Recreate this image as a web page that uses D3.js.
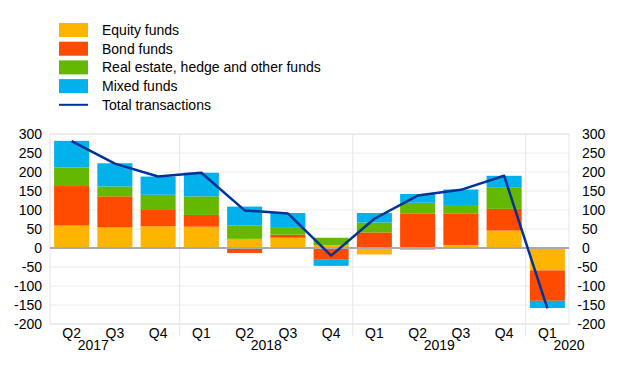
<!DOCTYPE html>
<html><head><meta charset="utf-8">
<script src="https://cdn.jsdelivr.net/npm/d3@7"></script>
<style>body{margin:0;background:#fff}svg{display:block;font-family:"Liberation Sans",Arial,sans-serif}</style>
</head><body><svg id="c" width="620" height="387"></svg>
<script>
const quarters = ["Q2","Q3","Q4","Q1","Q2","Q3","Q4","Q1","Q2","Q3","Q4","Q1"];
const years = [2017,2017,2017,2018,2018,2018,2018,2019,2019,2019,2019,2020];
const equity = [59,54,57,56,24,27,8,-17,-5,8,46,-59];
const bond = [104,82,43,31,-13,8,-31,41,90,82,57,-80];
const other = [49,26,40,49,35,20,19,26,29,23,57,0];
const mixed = [70,61,48,62,50,37,-16,25,23,41,30,-19];
const total = [281,222,188,198,99,91,-20,77,138,153,190,-159];
const seriesNames = ["Equity funds","Bond funds","Real estate, hedge and other funds","Mixed funds"];
const lineName = "Total transactions";
const yTicks = [300,250,200,150,100,50,0,-50,-100,-150,-200];
const colors = ["#FFB400","#FF4B00","#65B800","#00B1EA"];
const lineColor = "#003299";

const svg = d3.select("#c");
const L = 50, R = 569, T = 134, B = 324;
const idx = d3.range(quarters.length);
const x = d3.scaleBand().domain(idx).range([L, R]).paddingInner(0.19).paddingOuter(0.095);
const step = x.step();
const cx = i => L + step * (i + 0.5);
const y = d3.scaleLinear().domain([-200, 300]).range([B, T]);

// grid
svg.append("g").selectAll("line").data(yTicks).join("line")
  .attr("x1", L).attr("x2", R).attr("y1", d => y(d)).attr("y2", d => y(d))
  .attr("stroke", "#ececec").attr("stroke-width", 1);
svg.append("rect").attr("x", L).attr("y", T).attr("width", R - L).attr("height", B - T)
  .attr("fill", "none").attr("stroke", "#e4e4e4");
// year separators
const seps = idx.filter(i => i > 0 && years[i] !== years[i - 1]);
svg.append("g").selectAll("line").data(seps).join("line")
  .attr("x1", i => L + step * i).attr("x2", i => L + step * i)
  .attr("y1", T).attr("y2", B + 12).attr("stroke", "#e4e4e4");

// stacked bars
const series = [equity, bond, other, mixed];
const rects = [];
idx.forEach(i => {
  let pos = 0, neg = 0;
  series.forEach((s, k) => {
    const v = s[i];
    if (v === 0) return;
    let y0, y1;
    if (v >= 0) { y0 = pos; y1 = pos + v; pos = y1; } else { y0 = neg; y1 = neg + v; neg = y1; }
    rects.push({ i, k, y0, y1 });
  });
});
svg.append("g").selectAll("rect").data(rects).join("rect")
  .attr("x", d => x(d.i)).attr("width", x.bandwidth())
  .attr("y", d => y(Math.max(d.y0, d.y1))).attr("height", d => Math.abs(y(d.y0) - y(d.y1)))
  .attr("fill", d => colors[d.k]);

// zero line
svg.append("line").attr("x1", L).attr("x2", R).attr("y1", y(0)).attr("y2", y(0))
  .attr("stroke", "#aaaaaa").attr("stroke-width", 2);

// total line
svg.append("path").datum(total)
  .attr("d", d3.line().x((d, i) => cx(i)).y(d => y(d)))
  .attr("fill", "none").attr("stroke", lineColor).attr("stroke-width", 2.5).attr("stroke-linejoin", "round");

// y axes
const fs = 14;
svg.append("g").selectAll("text").data(yTicks).join("text")
  .attr("x", 42).attr("y", d => y(d)).attr("dy", "0.35em").attr("text-anchor", "end")
  .attr("font-size", fs).attr("fill", "#000").text(d => d);
svg.append("g").selectAll("text").data(yTicks).join("text")
  .attr("x", d => d < 0 ? 577.3 : 582).attr("y", d => y(d)).attr("dy", "0.35em").attr("text-anchor", "start")
  .attr("font-size", fs).attr("fill", "#000").text(d => d);

// x labels
svg.append("g").selectAll("text").data(idx).join("text")
  .attr("x", i => cx(i)).attr("y", 338).attr("text-anchor", "middle")
  .attr("font-size", fs).text(i => quarters[i]);
const uy = Array.from(new Set(years));
const qn = q => +q.slice(1);
svg.append("g").selectAll("text").data(uy).join("text")
  .attr("x", yr => {
    const i = years.indexOf(yr);
    const startIdx = i - (qn(quarters[i]) - 1);
    const c = L + step * (startIdx + 2);
    return Math.min(Math.max(c, L), R);
  })
  .attr("y", 349.5).attr("text-anchor", "middle").attr("font-size", fs).text(d => d);

// legend
const lg = svg.append("g");
seriesNames.forEach((n, k) => {
  const yy = 23 + k * 18.7;
  lg.append("rect").attr("x", 59).attr("y", yy).attr("width", 29).attr("height", 14).attr("fill", colors[k]);
  lg.append("text").attr("x", 102).attr("y", yy + 7).attr("dy", "0.35em").attr("font-size", fs).text(n);
});
const ly = 23 + 4 * 18.7 + 7;
lg.append("line").attr("x1", 59).attr("x2", 88).attr("y1", ly).attr("y2", ly).attr("stroke", lineColor).attr("stroke-width", 2);
lg.append("text").attr("x", 102).attr("y", ly).attr("dy", "0.35em").attr("font-size", fs).text(lineName);
</script></body></html>
